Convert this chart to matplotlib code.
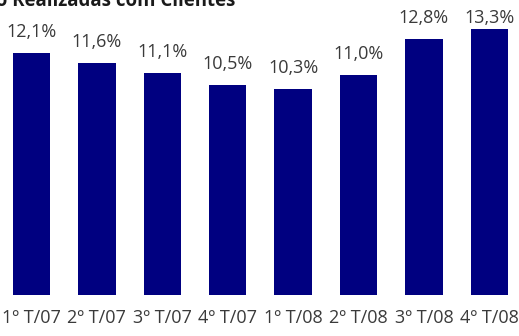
import matplotlib.pyplot as plt

plt.rcParams['font.family'] = ['Open Sans', 'DejaVu Sans']

quarters = ['1º T/07', '2º T/07', '3º T/07', '4º T/07',
            '1º T/08', '2º T/08', '3º T/08', '4º T/08']
values = [12.1, 11.6, 11.1, 10.5, 10.3, 11.0, 12.8, 13.3]
labels = ['12,1%', '11,6%', '11,1%', '10,5%', '10,3%', '11,0%', '12,8%', '13,3%']

W, H = 519, 336
fig = plt.figure(figsize=(W / 100, H / 100), dpi=100)
ax = fig.add_axes([-1.2 / W, 41 / H, 523.2 / W, 300 / H])

x = range(len(values))
ax.bar(x, values, width=0.57, color='#000080')
# labels sit above the bars, but never higher than the top row
for i, (v, lab) in enumerate(zip(values, labels)):
    ax.text(i, min(v + 1.05, 13.85), lab, ha='center', va='center',
            fontsize=13, color='#3a3a3a')

ax.set_xlim(-0.5, 7.5)
ax.set_ylim(0, 15)
ax.set_xticks(list(x))
ax.set_xticklabels(quarters, fontsize=13, color='#3a3a3a')
ax.tick_params(axis='x', length=0, pad=10)
ax.set_yticks([])
for s in ax.spines.values():
    s.set_visible(False)
ax.patch.set_alpha(0)

fig.text(235 / W, 1 - 6 / H, 'Spread das Operações de Crédito Realizadas com Clientes',
         ha='right', va='baseline', fontsize=13.4, fontweight='bold', color='#1a1a1a')

fig.savefig('out.png', dpi=100)
